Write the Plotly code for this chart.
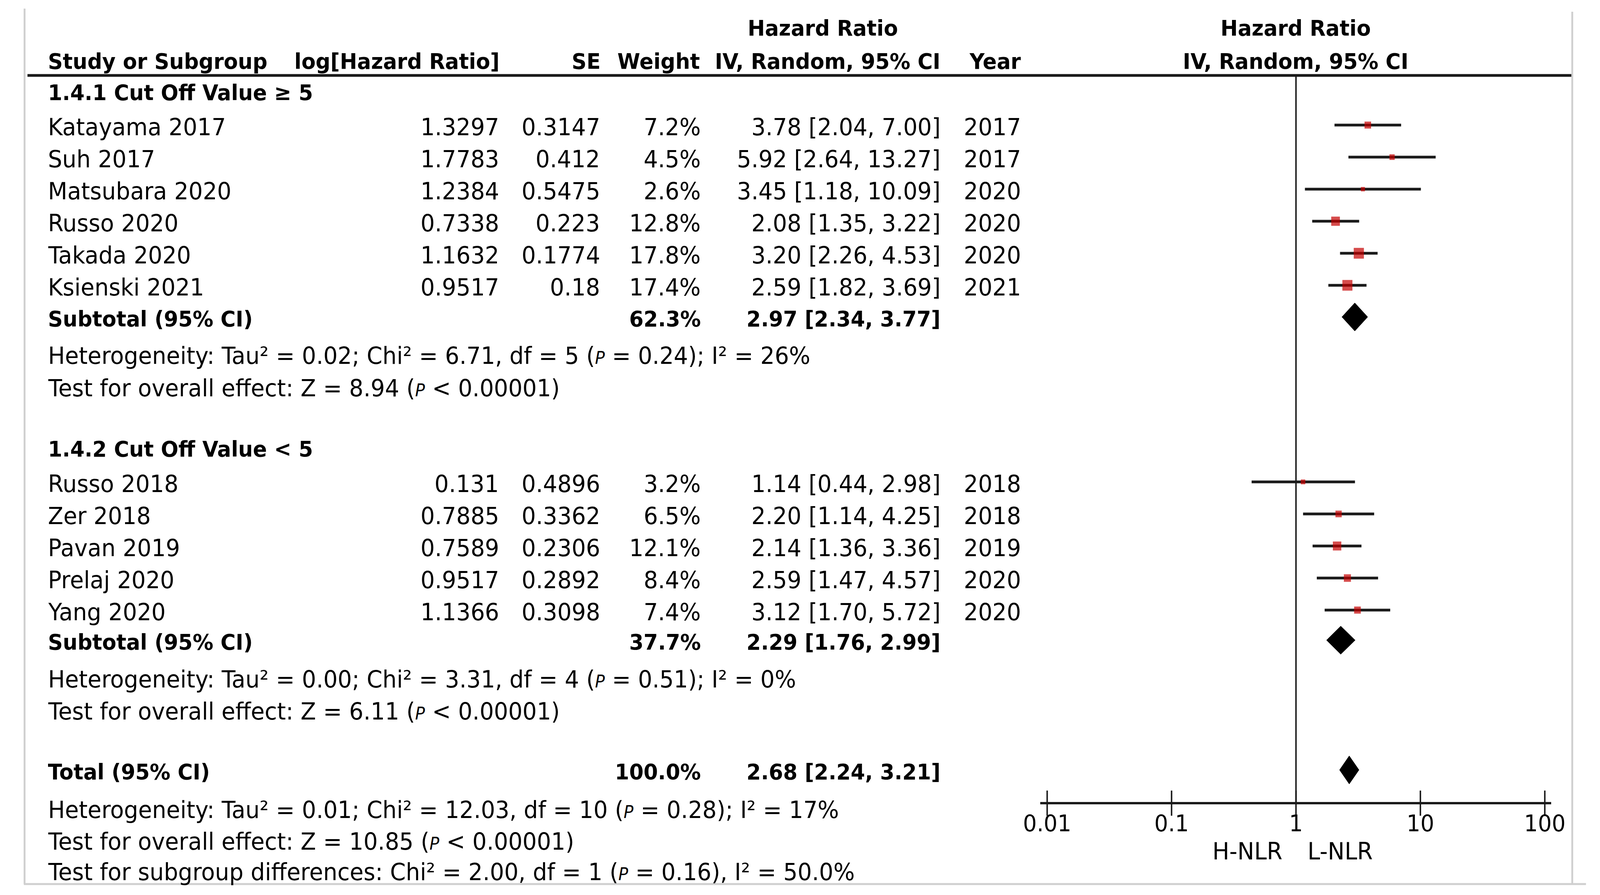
import math
import plotly.graph_objects as go

W, H = 4338, 2290

# ---------------- data ----------------
g1_names = ["Katayama 2017", "Suh 2017", "Matsubara 2020", "Russo 2020", "Takada 2020", "Ksienski 2021"]
g1_loghr = ["1.3297", "1.7783", "1.2384", "0.7338", "1.1632", "0.9517"]
g1_se = ["0.3147", "0.412", "0.5475", "0.223", "0.1774", "0.18"]
g1_weight = [7.2, 4.5, 2.6, 12.8, 17.8, 17.4]
g1_hr = [3.78, 5.92, 3.45, 2.08, 3.20, 2.59]
g1_lo = [2.04, 2.64, 1.18, 1.35, 2.26, 1.82]
g1_hi = [7.00, 13.27, 10.09, 3.22, 4.53, 3.69]
g1_year = ["2017", "2017", "2020", "2020", "2020", "2021"]
g1_sub = dict(weight=62.3, hr=2.97, lo=2.34, hi=3.77)
g1_het = "Heterogeneity: Tau² = 0.02; Chi² = 6.71, df = 5 ({P} = 0.24); I² = 26%"
g1_test = "Test for overall effect: Z = 8.94 ({P} &lt; 0.00001)"

g2_names = ["Russo 2018", "Zer 2018", "Pavan 2019", "Prelaj 2020", "Yang 2020"]
g2_loghr = ["0.131", "0.7885", "0.7589", "0.9517", "1.1366"]
g2_se = ["0.4896", "0.3362", "0.2306", "0.2892", "0.3098"]
g2_weight = [3.2, 6.5, 12.1, 8.4, 7.4]
g2_hr = [1.14, 2.20, 2.14, 2.59, 3.12]
g2_lo = [0.44, 1.14, 1.36, 1.47, 1.70]
g2_hi = [2.98, 4.25, 3.36, 4.57, 5.72]
g2_year = ["2018", "2018", "2019", "2020", "2020"]
g2_sub = dict(weight=37.7, hr=2.29, lo=1.76, hi=2.99)
g2_het = "Heterogeneity: Tau² = 0.00; Chi² = 3.31, df = 4 ({P} = 0.51); I² = 0%"
g2_test = "Test for overall effect: Z = 6.11 ({P} &lt; 0.00001)"

total = dict(weight=100.0, hr=2.68, lo=2.24, hi=3.21)
total_het = "Heterogeneity: Tau² = 0.01; Chi² = 12.03, df = 10 ({P} = 0.28); I² = 17%"
total_test = "Test for overall effect: Z = 10.85 ({P} &lt; 0.00001)"
subgroup_test = "Test for subgroup differences: Chi² = 2.00, df = 1 ({P} = 0.16), I² = 50.0%"

tick_vals = [0.01, 0.1, 1, 10, 100]
tick_text = ["0.01", "0.1", "1", "10", "100"]
left_label = "H-NLR"
right_label = "L-NLR"

# ---------------- layout constants (pixels) ----------------
FONT = "DejaVu Sans"
FS = 61
FSB = 56
INK = "#1a1a1a"
RED = "#c40000"
PSTR = '<span style="font-size:44px"><i>P</i></span>'
TEXT_SHIFT = -4   # nudge text slightly down so glyphs sit on the row centre

def X(px):
    return px / W

COL_NAME = 83
COL_LOG = 1334
COL_SE = 1614
COL_W = 1892
COL_CI = 2555
COL_YEAR = 2777

Y_HEAD1, Y_HEAD2, Y_HLINE = 67, 152, 193
Y_G1_TITLE = 232
Y_G1 = [320 + 82 * i for i in range(len(g1_names))]
Y_G1_SUB = 811
Y_G1_HET, Y_G1_TEST = 905, 988
Y_G2_TITLE = 1144
Y_G2 = [1233 + 82 * i for i in range(len(g2_names))]
Y_G2_SUB = 1638
Y_G2_HET, Y_G2_TEST = 1733, 1815
Y_TOT = 1970
Y_TOT_HET, Y_TOT_TEST, Y_SUBG = 2067, 2148, 2226
Y_AXIS = 2055
DIA_H = 36

annotations = []

def txt(x, y, s, anchor="left", bold=False, size=None):
    annotations.append(dict(
        x=X(x), y=y, xref="paper", yref="y", text=s, showarrow=False,
        xanchor=anchor, yanchor="middle", yshift=TEXT_SHIFT,
        font=dict(family=FONT, size=size or (FSB if bold else FS), color="#000000",
                  weight="bold" if bold else "normal"),
    ))

# headers
txt(2228, Y_HEAD1, "Hazard Ratio", "center", True)
txt(3535, Y_HEAD1, "Hazard Ratio", "center", True)
txt(COL_NAME, Y_HEAD2, "Study or Subgroup", "left", True)
txt(1336, Y_HEAD2, "log[Hazard Ratio]", "right", True)
txt(1616, Y_HEAD2, "SE", "right", True)
txt(1890, Y_HEAD2, "Weight", "right", True)
txt(COL_CI, Y_HEAD2, "IV, Random, 95% CI", "right", True)
txt(COL_YEAR, Y_HEAD2, "Year", "right", True)
txt(3535, Y_HEAD2, "IV, Random, 95% CI", "center", True)

def study_rows(names, loghr, se, weight, hr, lo, hi, year, ys):
    for i in range(len(names)):
        y = ys[i]
        txt(COL_NAME, y, names[i])
        txt(COL_LOG, y, loghr[i], "right")
        txt(COL_SE, y, se[i], "right")
        txt(COL_W, y, f"{weight[i]:.1f}%", "right")
        txt(COL_CI, y, f"{hr[i]:.2f} [{lo[i]:.2f}, {hi[i]:.2f}]", "right")
        txt(COL_YEAR, y, year[i], "right")

def summary_row(label, s, y):
    txt(COL_NAME, y, label, "left", True)
    txt(COL_W, y, f"{s['weight']:.1f}%", "right", True)
    txt(COL_CI, y, f"{s['hr']:.2f} [{s['lo']:.2f}, {s['hi']:.2f}]", "right", True)

txt(COL_NAME, Y_G1_TITLE, "1.4.1 Cut Off Value ≥ 5", "left", True)
study_rows(g1_names, g1_loghr, g1_se, g1_weight, g1_hr, g1_lo, g1_hi, g1_year, Y_G1)
summary_row("Subtotal (95% CI)", g1_sub, Y_G1_SUB)
txt(COL_NAME, Y_G1_HET, g1_het.format(P=PSTR))
txt(COL_NAME, Y_G1_TEST, g1_test.format(P=PSTR))

txt(COL_NAME, Y_G2_TITLE, "1.4.2 Cut Off Value &lt; 5", "left", True)
study_rows(g2_names, g2_loghr, g2_se, g2_weight, g2_hr, g2_lo, g2_hi, g2_year, Y_G2)
summary_row("Subtotal (95% CI)", g2_sub, Y_G2_SUB)
txt(COL_NAME, Y_G2_HET, g2_het.format(P=PSTR))
txt(COL_NAME, Y_G2_TEST, g2_test.format(P=PSTR))

summary_row("Total (95% CI)", total, Y_TOT)
txt(COL_NAME, Y_TOT_HET, total_het.format(P=PSTR))
txt(COL_NAME, Y_TOT_TEST, total_test.format(P=PSTR))
txt(COL_NAME, Y_SUBG, subgroup_test.format(P=PSTR))

# labels either side of the null line (annotation x on a log axis is log10 of the value)
annotations.append(dict(x=math.log10(1), y=2177, xref="x", yref="y", text=left_label, showarrow=False,
                        xanchor="right", yanchor="middle", xshift=-35,
                        font=dict(family=FONT, size=FS, color="#000")))
annotations.append(dict(x=math.log10(1), y=2177, xref="x", yref="y", text=right_label, showarrow=False,
                        xanchor="left", yanchor="middle", xshift=29,
                        font=dict(family=FONT, size=FS, color="#000")))

# ---------------- forest traces ----------------
fig = go.Figure()

all_hr = g1_hr + g2_hr
all_lo = g1_lo + g2_lo
all_hi = g1_hi + g2_hi
all_w = g1_weight + g2_weight
all_y = Y_G1 + Y_G2

cx, cy = [], []
for lo, hi, y in zip(all_lo, all_hi, all_y):
    cx += [lo, hi, None]
    cy += [y, y, None]
fig.add_trace(go.Scatter(x=cx, y=cy, mode="lines", line=dict(color=INK, width=7),
                         hoverinfo="skip", showlegend=False))

fig.add_trace(go.Scatter(x=all_hr, y=all_y, mode="markers",
                         marker=dict(symbol="square", color=RED,
                                     size=[6.3 * math.sqrt(w) + 1 for w in all_w],
                                     line=dict(width=0)),
                         showlegend=False))

for s, y in [(g1_sub, Y_G1_SUB), (g2_sub, Y_G2_SUB), (total, Y_TOT)]:
    fig.add_trace(go.Scatter(
        x=[s["lo"], s["hr"], s["hi"], s["hr"], s["lo"]],
        y=[y, y - DIA_H, y, y + DIA_H, y],
        mode="lines", fill="toself", fillcolor="#000000",
        line=dict(color="#000000", width=1), showlegend=False, hoverinfo="skip"))

# axis tick marks crossing the axis line
fig.add_trace(go.Scatter(x=tick_vals, y=[Y_AXIS] * len(tick_vals), mode="markers",
                         marker=dict(symbol="line-ns", size=46, color=INK,
                                     line=dict(width=4, color=INK)),
                         showlegend=False, hoverinfo="skip"))

# ---------------- shapes ----------------
shapes = [
    dict(type="line", xref="paper", yref="y", x0=X(28), x1=X(4300), y0=Y_HLINE, y1=Y_HLINE,
         line=dict(color=INK, width=7)),
    dict(type="line", xref="x", yref="y", x0=1, x1=1, y0=Y_HLINE, y1=Y_AXIS,
         line=dict(color=INK, width=4)),
    dict(type="line", xref="paper", yref="y", x0=X(20), x1=X(20), y0=22, y1=2262,
         line=dict(color="#cfcfcf", width=5)),
    dict(type="line", xref="paper", yref="y", x0=X(4300), x1=X(4300), y0=30, y1=2262,
         line=dict(color="#cfcfcf", width=5)),
    dict(type="line", xref="paper", yref="y", x0=X(18), x1=1, y0=2262, y1=2262,
         line=dict(color="#cfcfcf", width=5)),
]

fig.update_layout(
    width=W, height=H, autosize=False,
    margin=dict(l=0, r=0, t=0, b=0, pad=0),
    paper_bgcolor="white", plot_bgcolor="white",
    showlegend=False,
    annotations=annotations,
    shapes=shapes,
    xaxis=dict(type="log", range=[-2.055, 2.052], domain=[X(2829), X(4242)],
               anchor="free", position=1 - Y_AXIS / H,
               showline=True, linecolor=INK, linewidth=6,
               ticks="", tickvals=tick_vals, ticktext=tick_text,
               ticklabelstandoff=-2,
               tickfont=dict(family=FONT, size=59, color="#000"),
               showgrid=False, zeroline=False, fixedrange=True),
    yaxis=dict(range=[H, 0], domain=[0, 1], visible=False, showgrid=False,
               zeroline=False, fixedrange=True),
)

# fit the fixed-size figure exactly into the browser viewport
post = """
(function(){
  var gd = document.getElementById('{plot_id}');
  var de = document.documentElement, b = document.body;
  de.style.margin = '0'; de.style.padding = '0'; de.style.overflow = 'hidden';
  b.style.margin = '0'; b.style.padding = '0'; b.style.overflow = 'hidden';
  var sx = window.innerWidth / %d, sy = window.innerHeight / %d;
  gd.style.transformOrigin = '0 0';
  gd.style.transform = 'scale(' + sx + ',' + sy + ')';
})();
""" % (W, H)

fig.write_html("out.html", post_script=post, config={"displayModeBar": False})
